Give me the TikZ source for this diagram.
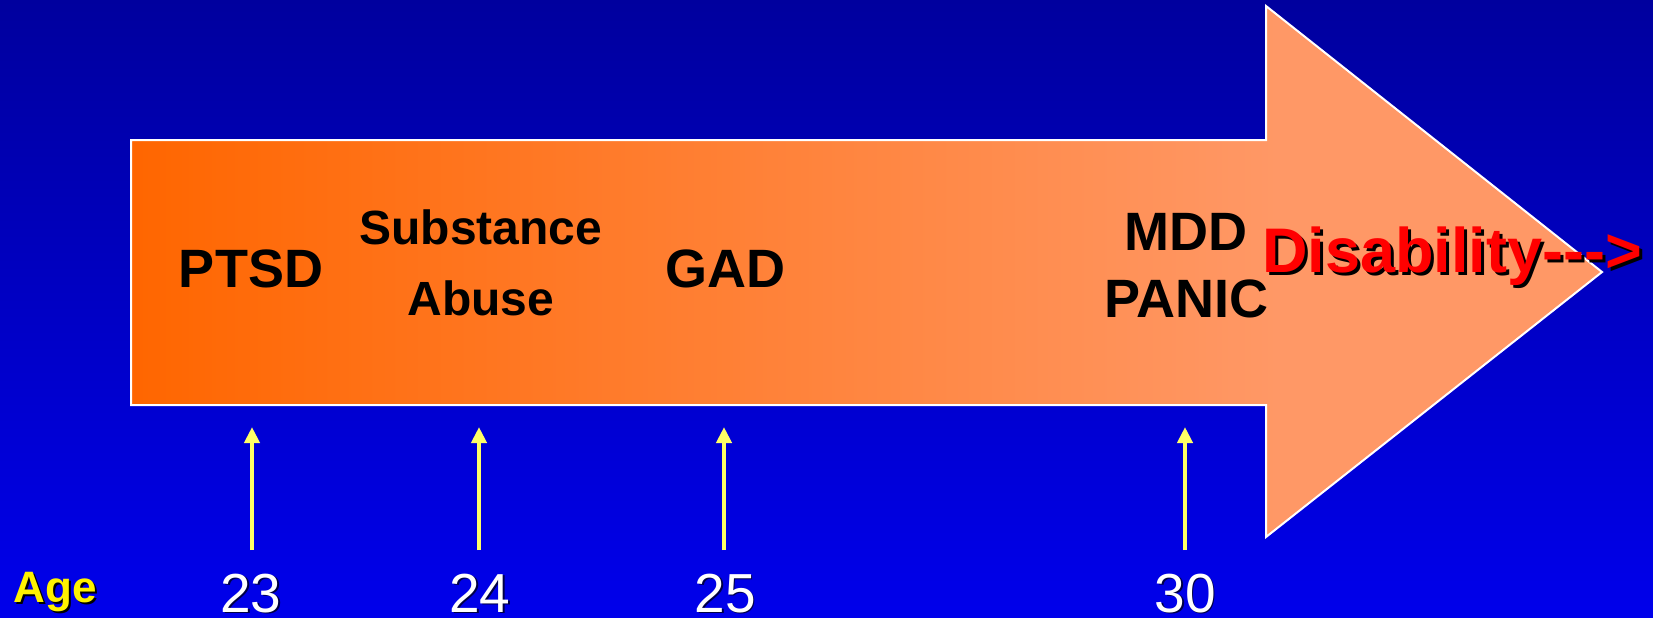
\documentclass[tikz,border=0pt]{standalone}
\usepackage{fontspec}
\setmainfont{Liberation Sans}
\usetikzlibrary{arrows.meta}
\definecolor{bgtop}{RGB}{0,0,158}
\definecolor{bgbot}{RGB}{0,0,235}
\definecolor{arrL}{RGB}{255,102,0}
\definecolor{arrR}{RGB}{255,152,102}
\definecolor{ylarrow}{RGB}{255,255,102}
\definecolor{numshadowc}{RGB}{0,0,70}
\pgfdeclarehorizontalshading{arrowgrad}{100bp}{color(0bp)=(arrL); color(25bp)=(arrL); color(64bp)=(arrR); color(100bp)=(arrR)}
% text with a drop shadow, in one box: #1 shadow colour, #2 offset, #3 text
\newcommand\dropshadowtext[3]{\makebox[0pt][l]{\hspace*{#2}\raisebox{-#2}{\textcolor{#1}{#3}}}#3}
\begin{document}
\begin{tikzpicture}[x=0.5pt,y=-0.5pt,
  lbl/.style={inner sep=0pt, anchor=base, font=\fontsize{27}{32}\selectfont\bfseries, text=black},
  sublbl/.style={lbl, font=\fontsize{24}{29}\selectfont\bfseries},
  dislbl/.style={inner sep=0pt, anchor=base west, font=\fontsize{31.5}{36}\selectfont\bfseries, text=red},
  agelbl/.style={inner sep=0pt, anchor=base west, font=\fontsize{22}{26}\selectfont\bfseries, text=yellow},
  agenum/.style={inner sep=0pt, anchor=base, font=\fontsize{27.5}{32}\selectfont, text=white},
  pointer/.style={draw=ylarrow, line width=2pt, -{Triangle[width=7.5pt,length=8pt]}},
  outline/.style={draw=white, line width=1pt, line join=miter}
]
% background
\shade[top color=bgtop, bottom color=bgbot] (0,0) rectangle (1653,617);
\useasboundingbox (0,0) rectangle (1653,617);

% big arrow
\shade[shading=arrowgrad] (131,140) -- (1266,140) -- (1266,6) -- (1602,272) -- (1266,537) -- (1266,405) -- (131,405) -- cycle;
\draw[outline] (131,140) -- (1266,140) -- (1266,6) -- (1602,272) -- (1266,537) -- (1266,405) -- (131,405) -- cycle;

% labels inside the arrow
\node[lbl] (ptsd) at (251,287) {PTSD};
\node[sublbl] (subst) at (481,244) {Substance};
\node[sublbl] (abuse) at (481,315) {Abuse};
\node[lbl] (gad) at (725,287) {GAD};
\node[lbl] (mdd) at (1186,250) {MDD};
\node[lbl] (panic) at (1186,317) {PANIC};

% Disability with shadow
\node[dislbl] (dis) at (1262,272) {\dropshadowtext{black}{1.5pt}{Disability-{}-{}-{}>}};

% Age with shadow
\node[agelbl] (age) at (13,602) {\dropshadowtext{black}{1.2pt}{Age}};

% numbers with shadow
\node[agenum] (n23) at (251,612) {\dropshadowtext{numshadowc}{0.8pt}{23}};
\node[agenum] (n24) at (480,612) {\dropshadowtext{numshadowc}{0.8pt}{24}};
\node[agenum] (n25) at (725,612) {\dropshadowtext{numshadowc}{0.8pt}{25}};
\node[agenum] (n30) at (1185,612) {\dropshadowtext{numshadowc}{0.8pt}{30}};

% pointers
\coordinate (p23b) at (252,550); \coordinate (p23t) at (252,427);
\coordinate (p24b) at (479,550); \coordinate (p24t) at (479,427);
\coordinate (p25b) at (724,550); \coordinate (p25t) at (724,427);
\coordinate (p30b) at (1185,550); \coordinate (p30t) at (1185,427);
\draw[pointer] (p23b) -- (p23t);
\draw[pointer] (p24b) -- (p24t);
\draw[pointer] (p25b) -- (p25t);
\draw[pointer] (p30b) -- (p30t);
\end{tikzpicture}
\end{document}
